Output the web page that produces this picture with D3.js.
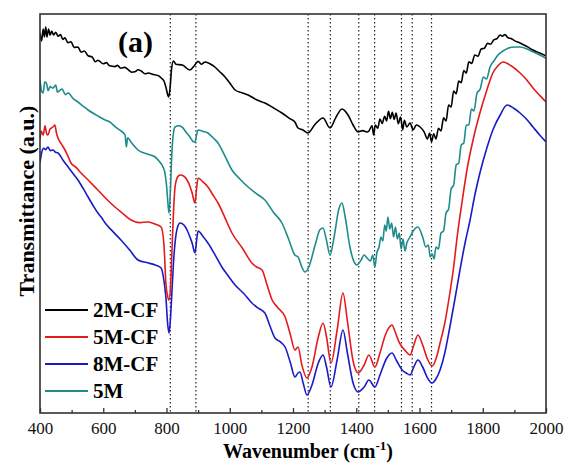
<!DOCTYPE html>
<html>
<head>
<meta charset="utf-8">
<script src="https://cdn.jsdelivr.net/npm/d3@7"></script>
<style>
	body { margin: 0; background: #fff; }
	text { font-family: "Liberation Serif", "Times New Roman", serif; }
</style>
</head>
<body>
<svg id="ftir" width="565" height="463"></svg>
<script>
// wavenumber (cm-1), transmittance (a.u.)
var series_2MCF = [
	[400, 95], [405, 93], [410, 96], [414, 94], [418, 96.5], [422, 94], [427, 96], [432, 94.5], [437, 95.5],
	[443, 94.5], [450, 95.2], [457, 94.2], [465, 94.6], [472, 93.4], [479, 93.8], [488, 92.6], [498, 92.8],
	[508, 91.4], [520, 91.5], [530, 90.2], [540, 90.5], [552, 89.3], [565, 89], [575, 87.8], [583, 88.2],
	[600, 87.3], [610, 87.6], [620, 86.8], [637, 86.6], [645, 86.9], [655, 86.2], [668, 86.4], [678, 85.9],
	[690, 85.2], [700, 85.3], [710, 85.8], [720, 85.5], [732, 84.8], [742, 85], [760, 84.6], [775, 84.3],
	[783, 83.75], [792, 83], [798, 81.5], [804, 79.5], [807, 79], [811, 81],
	[816, 86], [822, 88], [830, 87.2], [850, 87], [874, 85.75], [888, 86.8], [900, 87.9], [910, 87.2],
	[922, 87.75], [940, 87.2], [953, 86.5], [970, 85.2], [985, 84], [1000, 82.5], [1017, 80.75],
	[1040, 80], [1058, 79.5], [1085, 78.3], [1111, 77.5], [1140, 76.2], [1165, 75], [1190, 73.6],
	[1206, 72.75], [1216, 71.25], [1230, 70.8], [1247, 70], [1270, 72.2], [1295, 73.75], [1317, 71.25],
	[1335, 73.8], [1355, 76], [1374, 74.5], [1390, 72], [1406, 70.25], [1420, 70.6], [1434, 70.25],
	[1440, 70.5], [1450, 71.8], [1455, 69.5], [1460, 72], [1468, 71.2], [1475, 73.5], [1482, 72.4],
	[1490, 74.2], [1496, 73], [1502, 75.4], [1508, 73.6], [1514, 75.2], [1520, 73.4], [1526, 75],
	[1533, 72.3], [1540, 74], [1547, 70.8], [1552, 73.2], [1560, 71.5], [1570, 72.5], [1580, 70.8],
	[1590, 72], [1602, 71.5], [1615, 70.2], [1625, 68.5], [1632, 70], [1638, 67.8], [1645, 69.8],
	[1652, 68.5], [1660, 71.2], [1668, 70.5], [1676, 73.8], [1684, 73], [1692, 77], [1700, 76.5],
	[1708, 80.5], [1716, 79.8], [1724, 83], [1732, 82.6], [1740, 85.6], [1748, 85], [1756, 87.8],
	[1765, 87.4], [1775, 89.5], [1785, 89.2], [1795, 91], [1805, 91.2], [1815, 92.4], [1825, 92.2],
	[1835, 93.3], [1845, 93.6], [1855, 94.5], [1862, 94.2], [1870, 94.6], [1880, 93.8], [1890, 93.6],
	[1900, 93.1], [1918, 92.5], [1940, 91.6], [1959, 90.75], [1980, 90], [2000, 89.3]
];

var series_5MCF = [
	[400, 68.25], [404, 70.5], [410, 69.5], [416, 71.8], [421, 69.8], [425, 69.5], [432, 71], [441, 71.5],
	[447, 72], [452, 70], [457, 68.75], [468, 67.2], [479, 65.75], [488, 64.3], [498, 62.5], [514, 61.4],
	[530, 60], [555, 58], [583, 55.75], [610, 53.5], [637, 51.5], [660, 50], [688, 48.25], [715, 47.6],
	[742, 47.75], [765, 47.2], [783, 46.5], [792, 42], [798, 32.5], [804, 29], [808, 28.25], [813, 32],
	[817, 40], [822, 50], [827, 56.5], [835, 59], [843, 59.5], [855, 59.2], [865, 58.25], [875, 56.5],
	[881, 55], [890, 52.5], [895, 56], [900, 58.75], [915, 57.8], [931, 56.5], [947, 54.5], [963, 52.5],
	[985, 48.8], [1007, 45], [1040, 41.2], [1070, 37.5], [1085, 36.5], [1102, 35.75], [1118, 32],
	[1134, 28.25], [1150, 26.5], [1175, 24], [1192, 19.5], [1206, 15.75], [1216, 16.5], [1228, 12],
	[1244, 8.75], [1260, 11.5], [1280, 19], [1295, 22.5], [1306, 19], [1320, 12.5], [1340, 21],
	[1358, 30], [1372, 23], [1390, 13], [1406, 10], [1425, 12], [1440, 14.5], [1459, 11.5], [1475, 15],
	[1492, 19.5], [1505, 21.5], [1513, 22], [1522, 20.5], [1535, 17.8], [1545, 16.5], [1556, 15.5],
	[1570, 14.5], [1582, 17], [1595, 19.5], [1610, 17], [1625, 13.5], [1640, 11.75], [1652, 13.5],
	[1665, 17.5], [1680, 22.5], [1696, 30], [1708, 36.5], [1719, 44], [1735, 53], [1750, 60.75],
	[1770, 68.5], [1791, 75], [1812, 80.5], [1832, 85], [1848, 86.8], [1864, 87.75], [1890, 86.8],
	[1918, 85], [1940, 83.2], [1959, 81.25], [1980, 79.4], [2000, 77.75]
];

var series_8MCF = [
	[400, 62.5], [405, 65], [412, 66.2], [418, 65.8], [425, 66.5], [433, 65.6], [441, 65.75], [449, 65.2],
	[457, 65], [473, 63.2], [489, 61.5], [505, 59.8], [520, 58.25], [536, 56.2], [552, 54], [567, 52],
	[583, 50], [595, 48.8], [606, 47.5], [630, 45.4], [656, 43.25], [683, 40.8], [710, 38.25], [737, 37.6],
	[764, 37], [783, 36.25], [792, 33], [798, 29], [804, 22], [808, 20], [812, 23], [817, 30], [822, 37.5],
	[827, 42.5], [835, 46.5], [843, 47.5], [855, 47], [865, 45.75], [875, 43.8], [881, 42.5], [890, 40],
	[895, 43], [900, 45.5], [915, 44.2], [931, 42.5], [953, 39.6], [975, 36.5], [996, 34.2], [1017, 32],
	[1045, 29.8], [1070, 27.5], [1090, 26.2], [1111, 25], [1127, 21.8], [1143, 18.75], [1160, 17.8],
	[1175, 16.5], [1192, 12.5], [1206, 9], [1216, 10], [1222, 10.25], [1232, 7.5], [1244, 4.5],
	[1260, 7], [1280, 12.5], [1295, 14.5], [1306, 11.5], [1320, 6.5], [1340, 13.5], [1358, 20.75],
	[1372, 15], [1390, 7.5], [1406, 5.25], [1425, 6.5], [1440, 8.25], [1459, 6.5], [1475, 9.5],
	[1495, 13.5], [1513, 15], [1528, 13], [1545, 10.75], [1558, 10], [1570, 9.5], [1582, 11.5],
	[1595, 13.25], [1610, 11.5], [1625, 8.8], [1640, 7.5], [1652, 8.5], [1665, 10.75], [1680, 15],
	[1696, 21.5], [1712, 28.5], [1728, 35.75], [1744, 42.5], [1760, 48.25], [1775, 54.5], [1791, 60],
	[1812, 66], [1832, 70.75], [1855, 74.5], [1877, 77], [1898, 76.2], [1918, 75], [1940, 73.3],
	[1959, 71.5], [1980, 69.5], [2000, 67.75]
];

var series_5M = [
	[400, 83.25], [405, 80.5], [410, 80], [415, 82.8], [420, 82.5], [426, 80.6], [432, 81.6], [441, 81.25],
	[450, 82], [455, 80.2], [460, 80.5], [470, 81], [480, 79.6], [489, 80], [505, 78.6], [520, 77.75],
	[535, 76.8], [552, 75.75], [580, 74.4], [606, 73.25], [620, 72.8], [640, 71.4], [655, 70.6],
	[669, 69.5], [673, 66.5], [677, 68.8], [690, 67.5], [710, 65.75], [737, 64.8], [764, 64], [778, 62.8],
	[789, 61.5], [795, 60], [800, 57], [805, 52], [808, 50], [812, 55], [817, 65], [822, 70], [827, 71.5],
	[838, 71.8], [849, 71.5], [862, 70.2], [874, 69], [885, 67.8], [890, 67.75], [895, 69.5], [900, 70.75],
	[915, 70.4], [931, 70], [947, 68.8], [963, 67.5], [985, 64.2], [1007, 60.75], [1032, 58.5],
	[1058, 56.5], [1085, 54.8], [1111, 53.25], [1138, 50.2], [1165, 47.5], [1186, 43.5], [1206, 39.5],
	[1216, 39], [1228, 36.5], [1238, 35.25], [1250, 36.5], [1270, 42], [1285, 45.8], [1295, 46.25],
	[1305, 43.5], [1317, 39.5], [1330, 44], [1345, 51], [1355, 52.5], [1365, 49], [1380, 41.5],
	[1395, 37.5], [1402, 37], [1415, 38.2], [1425, 39.5], [1434, 38.75], [1445, 38], [1452, 39.5],
	[1459, 36.5], [1465, 40], [1472, 41.5], [1478, 44], [1484, 43], [1490, 47], [1495, 45.5], [1500, 49],
	[1506, 46], [1512, 47.5], [1518, 44], [1524, 46.5], [1530, 43.5], [1536, 45], [1542, 41],
	[1548, 43.5], [1554, 40.5], [1560, 42.5], [1570, 44], [1580, 45.5], [1595, 46.5], [1610, 44],
	[1620, 41.5], [1628, 42], [1634, 39], [1640, 39.8], [1646, 38.5], [1652, 41.5], [1660, 41],
	[1668, 45], [1676, 45.5], [1684, 50], [1692, 51], [1700, 56], [1708, 57], [1716, 62], [1724, 62.5],
	[1732, 67], [1740, 67.5], [1748, 72], [1756, 72], [1764, 76], [1772, 75.5], [1782, 80], [1792, 81],
	[1802, 84], [1812, 83.5], [1823, 86.5], [1835, 88], [1848, 89.5], [1864, 90.5], [1880, 91.2],
	[1900, 91.5], [1918, 91.5], [1940, 91], [1959, 90.3], [1980, 89.5], [2000, 88.7]
];

var seriesNames = ["2M-CF", "5M-CF", "8M-CF", "5M"];
var seriesColors = ["#000000", "#e41a1c", "#1a1ac8", "#1f8c8c"];
var peakLines = [812, 893, 1248, 1318, 1408, 1458, 1543, 1577, 1638];
var majorTicks = [400, 600, 800, 1000, 1200, 1400, 1600, 1800, 2000];
var minorTicks = [500, 700, 900, 1100, 1300, 1500, 1700, 1900];

buildChart();

function buildChart() {
	var svg = d3.select("#ftir"),
		margin = {top: 14, right: 19, bottom: 50, left: 40},
		width = +svg.attr("width") - margin.left - margin.right,
		height = +svg.attr("height") - margin.top - margin.bottom;

	var x = d3.scaleLinear().domain([400, 2000]).range([0, width]);
	var y = d3.scaleLinear().domain([0, 99.75]).range([height, 0]);

	var g = svg.append("g")
		.attr("transform", "translate(" + margin.left + "," + margin.top + ")");

	g.append("clipPath").attr("id", "plot-clip")
		.append("rect").attr("width", width).attr("height", height);

	g.append("g")
		.attr("class", "peaks")
		.selectAll("line")
		.data(peakLines)
		.enter().append("line")
			.attr("x1", function(d) { return x(d); })
			.attr("x2", function(d) { return x(d); })
			.attr("y1", 0)
			.attr("y2", height)
			.attr("stroke", "#222")
			.attr("stroke-width", 1.2)
			.attr("stroke-dasharray", "1.5,2.5");

	var line = d3.line()
		.x(function(d) { return x(d[0]); })
		.y(function(d) { return y(d[1]); })
		.curve(d3.curveMonotoneX);

	var allSeries = [series_2MCF, series_5MCF, series_8MCF, series_5M];
	var drawOrder = [2, 1, 3, 0];

	g.append("g")
		.attr("clip-path", "url(#plot-clip)")
		.selectAll("path")
		.data(drawOrder)
		.enter().append("path")
			.attr("d", function(i) { return line(allSeries[i]); })
			.attr("fill", "none")
			.attr("stroke", function(i) { return seriesColors[i]; })
			.attr("stroke-width", 1.6)
			.attr("stroke-linejoin", "round");

	var xAxis = g.append("g")
		.attr("transform", "translate(0," + height + ")")
		.call(d3.axisBottom(x).tickValues(majorTicks).tickFormat(d3.format("d"))
			.tickSizeInner(-5).tickSizeOuter(0).tickPadding(9));
	xAxis.select(".domain").remove();
	xAxis.selectAll(".tick line").attr("stroke", "#333").attr("stroke-width", 1.3);
	xAxis.selectAll("text")
		.attr("font-family", "'Liberation Serif', 'Times New Roman', serif")
		.attr("font-size", 17)
		.attr("fill", "#111");

	var xMinor = g.append("g")
		.attr("transform", "translate(0," + height + ")")
		.call(d3.axisBottom(x).tickValues(minorTicks).tickSizeInner(-3).tickSizeOuter(0).tickFormat(""));
	xMinor.select(".domain").remove();
	xMinor.selectAll(".tick line").attr("stroke", "#333").attr("stroke-width", 1.3);

	g.append("rect")
		.attr("width", width)
		.attr("height", height)
		.attr("fill", "none")
		.attr("stroke", "#333")
		.attr("stroke-width", 1.6);

	var legend = g.append("g")
		.attr("class", "legend")
		.selectAll("g")
		.data(seriesNames)
		.enter().append("g")
			.attr("transform", function(d, i) { return "translate(5," + (296 + i * 27) + ")"; });

	legend.append("line")
		.attr("x1", 0).attr("x2", 43)
		.attr("stroke", function(d, i) { return seriesColors[i]; })
		.attr("stroke-width", 2);

	legend.append("text")
		.attr("x", 48)
		.attr("dy", "0.35em")
		.attr("font-size", 21)
		.attr("font-weight", "bold")
		.text(function(d) { return d; });

	g.append("text")
		.attr("x", 78)
		.attr("y", 38)
		.attr("font-size", 30)
		.attr("font-weight", "bold")
		.text("(a)");

	var xTitle = svg.append("text")
		.attr("x", 308)
		.attr("y", 458)
		.attr("text-anchor", "middle")
		.attr("font-size", 20)
		.attr("font-weight", "bold");
	xTitle.append("tspan").text("Wavenumber (cm");
	xTitle.append("tspan").attr("font-size", 13).attr("dy", -8).text("-1");
	xTitle.append("tspan").attr("dy", 8).text(")");

	svg.append("text")
		.attr("transform", "translate(34,201) rotate(-90)")
		.attr("text-anchor", "middle")
		.attr("font-size", 22)
		.attr("font-weight", "bold")
		.text("Transmittance (a.u.)");
}
</script>
</body>
</html>
